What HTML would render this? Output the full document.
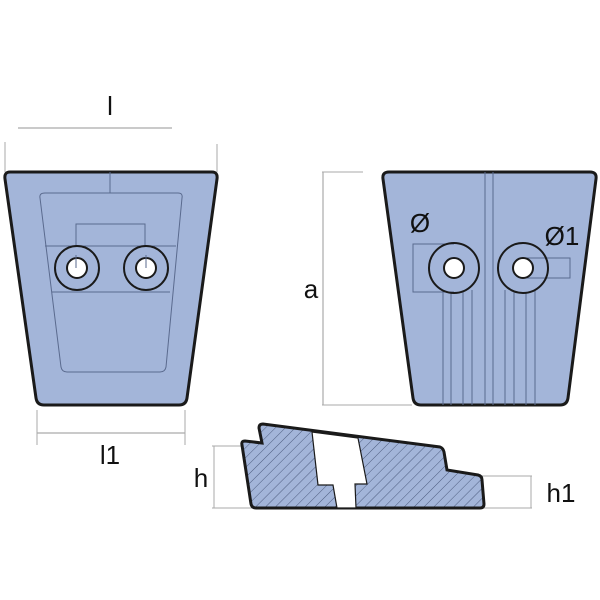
<!DOCTYPE html>
<html><head><meta charset="utf-8"><style>html,body{margin:0;padding:0;background:#fff}svg{display:block}</style></head>
<body>
<svg width="600" height="600" viewBox="0 0 600 600" xmlns="http://www.w3.org/2000/svg" font-family="Liberation Sans, sans-serif">
<defs>
<pattern id="hatch" patternUnits="userSpaceOnUse" width="7" height="7" patternTransform="rotate(45)">
<rect width="7" height="7" fill="#a3b5d9"/>
<line x1="0" y1="0" x2="0" y2="7" stroke="#4e5d80" stroke-width="1"/>
</pattern>
</defs>
<text x="110" y="115" font-size="26" text-anchor="middle" fill="#111">l</text>
<line x1="18" y1="128" x2="172" y2="128" stroke="#aaa" stroke-width="1.2"/>
<line x1="5" y1="142" x2="5" y2="172" stroke="#aaa"/>
<line x1="217" y1="144" x2="217" y2="172" stroke="#aaa"/>
<path d="M10,172 L212,172 Q218,172 217,179 L187,398 Q186,405 179,405 L44,405 Q37,405 36,398 L5,179 Q4,172 10,172 Z" fill="#a3b5d9" stroke="#1a1a1a" stroke-width="3"/>
<path d="M45,193 L178,193 Q183,193 182,198 L166,367 Q165,372 160,372 L67,372 Q62,372 61,367 L40,198 Q39,193 45,193 Z" fill="none" stroke="#5a6a8e" stroke-width="1"/>
<line x1="110" y1="172" x2="110" y2="193" stroke="#5a6a8e"/>
<polyline points="76,266 76,224 145,224 145,266" fill="none" stroke="#5a6a8e"/>
<line x1="45" y1="246" x2="176" y2="246" stroke="#5a6a8e"/>
<line x1="52" y1="292" x2="170" y2="292" stroke="#5a6a8e"/>
<circle cx="77" cy="268" r="22" fill="#a3b5d9" stroke="#1a1a1a" stroke-width="2"/>
<circle cx="77" cy="268" r="10" fill="#fff" stroke="#1a1a1a" stroke-width="2"/>
<circle cx="146" cy="268" r="22" fill="#a3b5d9" stroke="#1a1a1a" stroke-width="2"/>
<circle cx="146" cy="268" r="10" fill="#fff" stroke="#1a1a1a" stroke-width="2"/>
<line x1="76" y1="255" x2="76" y2="268" stroke="#5a6a8e"/>
<line x1="146" y1="255" x2="146" y2="268" stroke="#5a6a8e"/>
<line x1="37" y1="410" x2="37" y2="445" stroke="#aaa"/>
<line x1="185" y1="410" x2="185" y2="445" stroke="#aaa"/>
<line x1="37" y1="433" x2="185" y2="433" stroke="#aaa" stroke-width="1.2"/>
<text x="110" y="464" font-size="26" text-anchor="middle" fill="#111">l1</text>
<line x1="323" y1="172" x2="323" y2="405" stroke="#aaa" stroke-width="1.2"/>
<line x1="322" y1="172" x2="363" y2="172" stroke="#aaa"/>
<line x1="322" y1="405" x2="412" y2="405" stroke="#aaa"/>
<text x="311" y="298" font-size="26" text-anchor="middle" fill="#111">a</text>
<path d="M389,172 L590,172 Q597,172 596,179 L568,398 Q567,405 560,405 L421,405 Q414,405 413,398 L383,179 Q382,172 389,172 Z" fill="#a3b5d9" stroke="#1a1a1a" stroke-width="3"/>
<line x1="485" y1="172" x2="485" y2="405" stroke="#5a6a8e"/>
<line x1="493" y1="172" x2="493" y2="405" stroke="#5a6a8e"/>
<g stroke="#5a6a8e">
<line x1="443" y1="290" x2="443" y2="405"/><line x1="451" y1="292" x2="451" y2="405"/>
<line x1="463" y1="292" x2="463" y2="405"/><line x1="472" y1="290" x2="472" y2="405"/>
<line x1="505" y1="290" x2="505" y2="405"/><line x1="514" y1="292" x2="514" y2="405"/>
<line x1="526" y1="292" x2="526" y2="405"/><line x1="535" y1="290" x2="535" y2="405"/>
</g>
<polyline points="454,244 413,244 413,292 454,292" fill="none" stroke="#5a6a8e"/>
<polyline points="524,258 570,258 570,278 524,278" fill="none" stroke="#5a6a8e"/>
<circle cx="454" cy="268" r="25" fill="none" stroke="#1a1a1a" stroke-width="2"/>
<circle cx="454" cy="268" r="10" fill="#fff" stroke="#1a1a1a" stroke-width="2"/>
<circle cx="523" cy="268" r="25" fill="none" stroke="#1a1a1a" stroke-width="2"/>
<circle cx="523" cy="268" r="10" fill="#fff" stroke="#1a1a1a" stroke-width="2"/>
<text x="420" y="232" font-size="26" text-anchor="middle" fill="#111">Ø</text>
<text x="562" y="245" font-size="26" text-anchor="middle" fill="#111">Ø1</text>
<line x1="212" y1="446" x2="246" y2="446" stroke="#aaa"/>
<line x1="212" y1="508" x2="252" y2="508" stroke="#aaa"/>
<line x1="214" y1="446" x2="214" y2="508" stroke="#aaa"/>
<text x="201" y="487" font-size="26" text-anchor="middle" fill="#111">h</text>
<line x1="478" y1="476" x2="532" y2="476" stroke="#aaa"/>
<line x1="484" y1="508" x2="532" y2="508" stroke="#aaa"/>
<line x1="531" y1="476" x2="531" y2="508" stroke="#aaa"/>
<text x="561" y="502" font-size="26" text-anchor="middle" fill="#111">h1</text>
<path d="M242,445 Q241,441 245,441 L262,443 L259,428 Q259,424 263,424 L440,447 Q443,448 444,452 L447,470 L478,475 Q482,476 482,480 L484,504 Q484,508 480,508 L256,508 Q252,508 251,504 Z" fill="url(#hatch)" stroke="#1a1a1a" stroke-width="3"/>
<path d="M312,432 L358,438 L367,484 L355,484 L356,508 L337,508 L333,485 L318,485 Z" fill="#fff" stroke="#1a1a1a" stroke-width="1.2"/>
</svg>
</body></html>
